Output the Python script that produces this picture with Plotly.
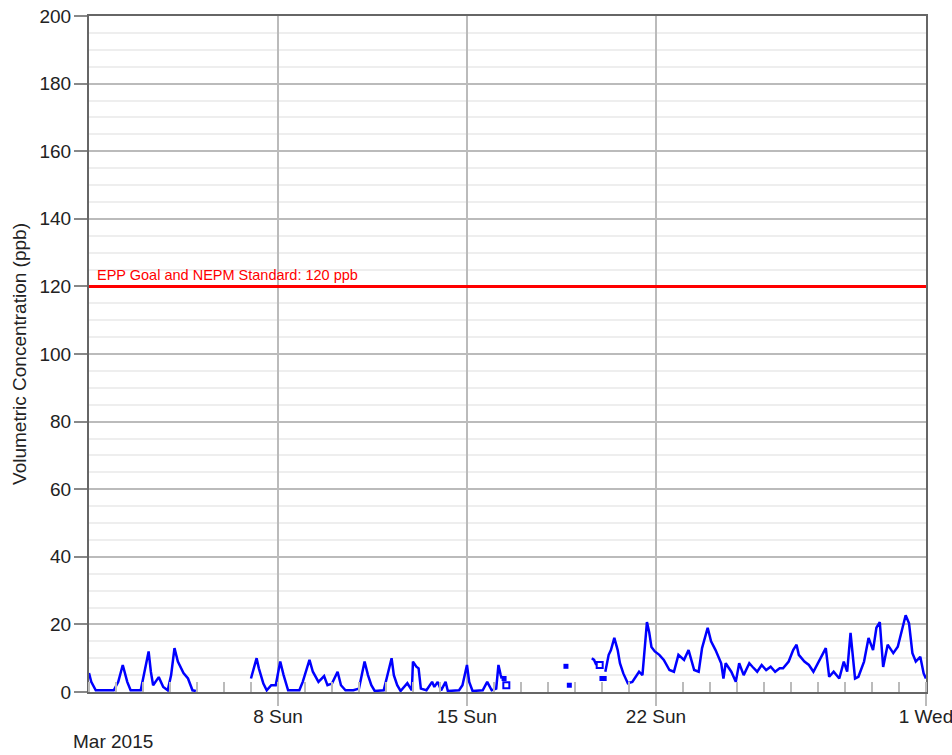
import plotly.graph_objects as go

# ---- data (hourly SO2, ppb), None = no data ----
times = [
    "03-01 00", "03-01 02", "03-01 06", "03-01 12", "03-01 22", "03-02 02", "03-02 06", "03-02 10",
    "03-02 13", "03-02 22", "03-03 01", "03-03 05", "03-03 07", "03-03 09", "03-03 14", "03-03 18",
    "03-03 22", "03-04 01", "03-04 04", "03-04 07", "03-04 12", "03-04 16", "03-04 20", "03-04 23",
    "03-05 00",
    "03-07 00", "03-07 05", "03-07 07", "03-07 11", "03-07 14", "03-07 18", "03-07 22", "03-08 02",
    "03-08 05", "03-08 09", "03-08 14", "03-08 19", "03-08 22", "03-09 04", "03-09 07", "03-09 12",
    "03-09 17", "03-09 20", "03-10 00", "03-10 05", "03-10 08", "03-10 12", "03-10 19", "03-11 00",
    "03-11 05", "03-11 08", "03-11 11", "03-11 14", "03-11 22", "03-12 00", "03-12 05", "03-12 07",
    "03-12 10", "03-12 13", "03-12 19", "03-12 23", "03-13 00", "03-13 03", "03-13 05", "03-13 07",
    "03-13 12", "03-13 17", "03-13 19", "03-13 22", "03-14 01", "03-14 05", "03-14 07", "03-14 17",
    "03-14 20", "03-15 00", "03-15 02", "03-15 05", "03-15 14", "03-15 18", "03-15 22", "03-16 02",
    "03-16 04", "03-16 06", "03-16 07",
    "03-16 08",
    "03-19 15", "03-19 17", "03-19 19",
    "03-19 20",
    "03-20 03", "03-20 06", "03-20 08", "03-20 11", "03-20 14", "03-20 16", "03-20 19", "03-20 23",
    "03-21 03", "03-21 09", "03-21 12", "03-21 16", "03-21 18", "03-21 20", "03-21 23", "03-22 03",
    "03-22 07", "03-22 12", "03-22 16", "03-22 20", "03-23 01", "03-23 05", "03-23 10", "03-23 14",
    "03-23 17", "03-23 22", "03-24 01", "03-24 05", "03-24 10", "03-24 12", "03-24 14", "03-24 19",
    "03-24 23", "03-25 02", "03-25 06", "03-25 11", "03-25 14", "03-25 18", "03-25 22", "03-26 02",
    "03-26 06", "03-26 10", "03-26 14", "03-26 17", "03-26 22", "03-27 02", "03-27 05", "03-27 07",
    "03-27 12", "03-27 16", "03-27 20", "03-28 01", "03-28 07", "03-28 10", "03-28 14", "03-28 19",
    "03-28 23", "03-29 02", "03-29 05", "03-29 09", "03-29 12", "03-29 17", "03-29 21", "03-30 01",
    "03-30 04", "03-30 07", "03-30 10", "03-30 14", "03-30 19", "03-30 23", "03-31 02", "03-31 06",
    "03-31 09", "03-31 12", "03-31 15", "03-31 19", "03-31 22", "04-01 00",
]
so2 = [
    5.6, 3, 0.5, 0.5, 0.5, 3, 8, 3,
    0.5, 0.5, 5, 12, 6, 2, 4.4, 1.5,
    0.5, 5, 13, 9, 5.6, 4, 0.5, 0.3,
    None,
    4, 10, 7, 2.5, 0.5, 2, 2, 9,
    5, 0.5, 0.5, 0.5, 3, 9.5, 6, 3,
    4.7, 2, 2.5, 6, 2, 0.5, 0.5, 1,
    9, 5, 2, 0.3, 0.5, 3, 10, 5,
    2, 0.3, 2.6, 0.5, 9, 7.5, 7, 1,
    0.5, 3, 1.5, 3, 0.5, 3, 0.3, 0.5,
    2, 8, 3, 0.3, 0.5, 3, 0.5, 1,
    8, 5, 4,
    None,
    10, 9.5, 8,
    None,
    6, 11, 12.4, 16, 12.4, 8.5, 5.5, 2.6,
    3, 6, 5, 20.7, 17.7, 13.3, 12, 11,
    9.5, 6.5, 6, 11, 9.5, 12.4, 6.5, 6,
    13, 19, 15, 12.4, 8.5, 4, 8.5, 6,
    3, 8.5, 5, 8.5, 7.4, 6, 8, 6.5,
    7.5, 6, 7, 7, 9, 12.4, 14, 11,
    9, 8, 6, 9, 13, 4.5, 6, 4,
    9, 6, 17.5, 4, 4.5, 9, 16, 12.4,
    19, 20.7, 7.4, 14, 11.5, 13.4, 17.5, 22.7,
    20.3, 11.5, 9, 10.4, 5.5, 4,
]
# isolated hourly values (drawn as markers)
iso_filled_times = ["03-16 09", "03-18 16", "03-18 19", "03-20 00", "03-20 02"]
iso_filled_values = [4, 7.6, 2, 4, 4]
iso_open_times = ["03-16 11", "03-19 22"]
iso_open_values = [2, 8]

goal_value = 120
goal_label = "EPP Goal and NEPM Standard: 120 ppb"
tick_dates = ["2015-03-08", "2015-03-15", "2015-03-22", "2015-04-01"]
tick_labels = ["8 Sun", "15 Sun", "22 Sun", "1 Wed"]
y_title = "Volumetric Concentration (ppb)"
period_label = "Mar 2015"


def full(t):
    return None if t is None else "2015-" + t + ":00"


FONT = "Liberation Sans, Arial, sans-serif"

fig = go.Figure()
fig.add_trace(go.Scatter(
    x=[full(t) for t in times], y=so2, mode="lines",
    line=dict(color="#0000ff", width=2.5), connectgaps=False, showlegend=False,
))
fig.add_trace(go.Scatter(
    x=[full(t) for t in iso_filled_times], y=iso_filled_values, mode="markers",
    marker=dict(symbol="square", size=5, color="#0000ff", line=dict(width=0)), showlegend=False,
))
fig.add_trace(go.Scatter(
    x=[full(t) for t in iso_open_times], y=iso_open_values, mode="markers",
    marker=dict(symbol="square-open", size=6, color="#0000ff", line=dict(width=2)), showlegend=False,
))

fig.add_shape(type="line", xref="paper", x0=0, x1=1, yref="y", y0=goal_value, y1=goal_value,
              line=dict(color="#ff0000", width=3), layer="above")
fig.add_annotation(xref="paper", x=0, xanchor="left", xshift=6, yref="y", y=goal_value,
                   yanchor="bottom", yshift=1, text=goal_label, showarrow=False,
                   font=dict(family=FONT, size=14.5, color="#ff0000"))
fig.add_annotation(xref="paper", x=0, xanchor="center", xshift=24, yref="paper", y=0,
                   yanchor="middle", yshift=-49, text=period_label, showarrow=False,
                   font=dict(family=FONT, size=19, color="#222222"))

fig.update_layout(
    width=952, height=755,
    margin=dict(l=89, r=26, t=16, b=63, autoexpand=False),
    paper_bgcolor="white", plot_bgcolor="white",
    font=dict(family=FONT, size=19, color="#222222"),
    showlegend=False,
)
fig.update_xaxes(
    type="date", range=["2015-03-01", "2015-04-01 00:05"],
    tickmode="array", tickvals=tick_dates, ticktext=tick_labels,
    ticks="outside", ticklen=12, tickwidth=2, tickcolor="#bbbbbb",
    showgrid=True, gridcolor="#bbbbbb", gridwidth=2,
    showline=True, linecolor="#666666", linewidth=2, mirror=True,
    minor=dict(dtick=86400000, tick0="2015-03-01", ticks="inside", ticklen=10,
               tickwidth=2, tickcolor="#bbbbbb", showgrid=False),
    zeroline=False, tickfont=dict(size=19), automargin=False,
    ticklabeloverflow="allow", ticklabelstandoff=-6,
)
fig.update_yaxes(
    range=[0, 200], dtick=20, tick0=0,
    ticks="outside", ticklen=13, tickwidth=2, tickcolor="#888888",
    showgrid=True, gridcolor="#bbbbbb", gridwidth=2,
    showline=True, linecolor="#666666", linewidth=2, mirror=True,
    minor=dict(dtick=5, showgrid=True, gridcolor="#eeeeee", gridwidth=2, ticks=""),
    zeroline=False, tickfont=dict(size=19), automargin=False,
    ticklabeloverflow="allow", ticklabelstandoff=-1,
    title=dict(text=y_title, font=dict(size=19), standoff=8),
)

fig.write_html(
    "out.html",
    config={"displayModeBar": False},
    post_script="document.body.style.margin='0';document.body.style.overflow='hidden';",
)
